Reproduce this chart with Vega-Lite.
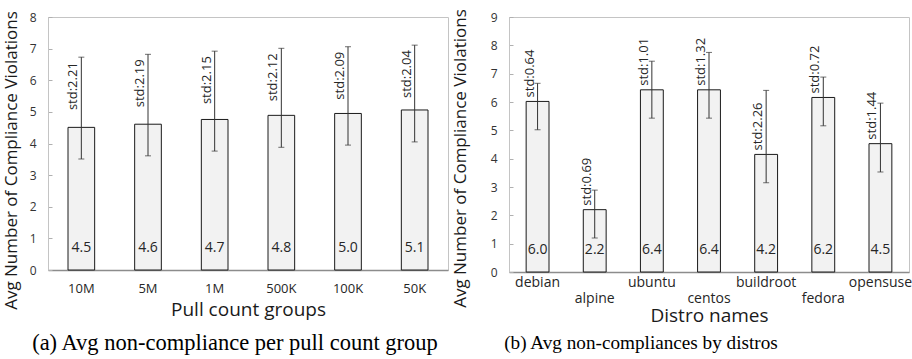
{
  "$schema": "https://vega.github.io/schema/vega-lite/v6.json",
  "padding": {"left": 1, "top": 8, "right": 2, "bottom": 0},
  "background": "white",
  "config": {
    "view": {"stroke": "#c4c4c4", "strokeWidth": 1},
    "font": "Open Sans",
    "axis": {"grid": false, "labelFont": "Open Sans", "titleFont": "Open Sans", "titleFontWeight": "normal", "labelColor": "#333333", "titleColor": "#1a1a1a"},
    "title": {"font": "Liberation Serif", "fontWeight": "normal", "fontSize": 21, "color": "#000000"}
  },
  "datasets": {
    "pull": [
      {"group": "10M", "mean": 4.51, "low": 3.51, "high": 6.73, "label": "4.5", "std": "std:2.21"},
      {"group": "5M", "mean": 4.61, "low": 3.61, "high": 6.82, "label": "4.6", "std": "std:2.19"},
      {"group": "1M", "mean": 4.76, "low": 3.76, "high": 6.92, "label": "4.7", "std": "std:2.15"},
      {"group": "500K", "mean": 4.89, "low": 3.88, "high": 7.01, "label": "4.8", "std": "std:2.12"},
      {"group": "100K", "mean": 4.95, "low": 3.95, "high": 7.06, "label": "5.0", "std": "std:2.09"},
      {"group": "50K", "mean": 5.06, "low": 4.05, "high": 7.11, "label": "5.1", "std": "std:2.04"}
    ],
    "distro": [
      {"name": "debian", "mean": 6.02, "low": 5.02, "high": 6.66, "label": "6.0", "std": "std:0.64"},
      {"name": "alpine", "mean": 2.2, "low": 1.2, "high": 2.89, "label": "2.2", "std": "std:0.69"},
      {"name": "ubuntu", "mean": 6.43, "low": 5.43, "high": 7.44, "label": "6.4", "std": "std:1.01"},
      {"name": "centos", "mean": 6.43, "low": 5.43, "high": 7.75, "label": "6.4", "std": "std:1.32"},
      {"name": "buildroot", "mean": 4.15, "low": 3.15, "high": 6.41, "label": "4.2", "std": "std:2.26"},
      {"name": "fedora", "mean": 6.16, "low": 5.16, "high": 6.88, "label": "6.2", "std": "std:0.72"},
      {"name": "opensuse", "mean": 4.53, "low": 3.53, "high": 5.96, "label": "4.5", "std": "std:1.44"}
    ]
  },
  "spacing": 1,
  "hconcat": [
    {
      "width": 400,
      "height": 253,
      "data": {"name": "pull"},
      "title": {"text": "(a) Avg non-compliance per pull count group", "orient": "bottom", "anchor": "middle", "offset": 13, "dx": -13, "fontSize": 22.5},
      "encoding": {
        "x": {"field": "group", "type": "nominal", "sort": null,
          "scale": {"paddingInner": 0.6, "paddingOuter": 0.3},
          "axis": {"title": "Pull count groups", "titleFontSize": 19, "titlePadding": 5, "labelFontSize": 13, "labelAngle": 0, "labelPadding": 12, "ticks": false, "domainColor": "#8c8c8c", "domainWidth": 1.5, "labelColor": "#262626"}}
      },
      "layer": [
        {
          "mark": {"type": "bar", "fill": "#f2f2f2", "stroke": "#1a1a1a", "strokeWidth": 1},
          "encoding": {
            "y": {"field": "mean", "type": "quantitative",
              "scale": {"domain": [0, 8]},
              "axis": {"title": "Avg Number of Compliance Violations", "titleY": 143, "values": [0,1,2,3,4,5,6,7,8], "titleFontSize": 17, "titlePadding": 9, "labelFontSize": 12, "labelPadding": 16, "tickSize": -4, "tickColor": "#b0b0b0", "domainColor": "#c4c4c4", "labelOverlap": false}}
          }
        },
        {
          "mark": {"type": "errorbar", "ticks": {"size": 6, "color": "#333333"}, "rule": {"color": "#333333", "strokeWidth": 1}},
          "encoding": {
            "y": {"field": "low", "type": "quantitative",
              "axis": {"title": "Avg Number of Compliance Violations", "titleY": 143, "values": [0,1,2,3,4,5,6,7,8], "titleFontSize": 17, "titlePadding": 9, "labelFontSize": 12, "labelPadding": 16, "tickSize": -4, "tickColor": "#b0b0b0", "domainColor": "#c4c4c4", "labelOverlap": false}},
            "y2": {"field": "high"}
          }
        },
        {
          "mark": {"type": "text", "angle": 270, "align": "right", "baseline": "bottom", "dx": -5, "dy": -1, "fontSize": 13, "color": "#262626"},
          "encoding": {
            "y": {"field": "high", "type": "quantitative",
              "axis": {"title": "Avg Number of Compliance Violations", "titleY": 143, "values": [0,1,2,3,4,5,6,7,8], "titleFontSize": 17, "titlePadding": 9, "labelFontSize": 12, "labelPadding": 16, "tickSize": -4, "tickColor": "#b0b0b0", "domainColor": "#c4c4c4", "labelOverlap": false}},
            "text": {"field": "std"}
          }
        },
        {
          "mark": {"type": "text", "baseline": "middle", "dy": -22, "fontSize": 14, "color": "#262626"},
          "encoding": {
            "y": {"datum": 0, "type": "quantitative",
              "axis": {"title": "Avg Number of Compliance Violations", "titleY": 143, "values": [0,1,2,3,4,5,6,7,8], "titleFontSize": 17, "titlePadding": 9, "labelFontSize": 12, "labelPadding": 16, "tickSize": -4, "tickColor": "#b0b0b0", "domainColor": "#c4c4c4", "labelOverlap": false}},
            "text": {"field": "label"}
          }
        }
      ]
    },
    {
      "width": 400,
      "height": 255,
      "data": {"name": "distro"},
      "title": {"text": "(b) Avg non-compliances by distros", "orient": "bottom", "anchor": "middle", "offset": 9, "dx": -68, "fontSize": 19.2},
      "encoding": {
        "x": {"field": "name", "type": "nominal", "sort": null,
          "scale": {"paddingInner": 0.6, "paddingOuter": 0.3},
          "axis": {"title": "Distro names", "titleFontSize": 19, "titlePadding": 1, "labelFontSize": 14, "labelAngle": 0, "ticks": false, "domainColor": "#8c8c8c", "domainWidth": 1.5, "labelColor": "#262626",
            "labelPadding": {"condition": {"test": "indexof(['alpine','centos','fedora'], datum.value) >= 0", "value": 19}, "value": 3}}}
      },
      "layer": [
        {
          "mark": {"type": "bar", "fill": "#f2f2f2", "stroke": "#1a1a1a", "strokeWidth": 1},
          "encoding": {
            "y": {"field": "mean", "type": "quantitative",
              "scale": {"domain": [0, 9]},
              "axis": {"title": "Avg Number of Compliance Violations", "titleY": 141, "values": [0,1,2,3,4,5,6,7,8,9], "titleFontSize": 17, "titlePadding": 21, "labelFontSize": 12, "labelPadding": 16, "tickSize": -4, "tickColor": "#b0b0b0", "domainColor": "#c4c4c4", "labelOverlap": false}}
          }
        },
        {
          "mark": {"type": "errorbar", "ticks": {"size": 6, "color": "#333333"}, "rule": {"color": "#333333", "strokeWidth": 1}},
          "encoding": {
            "y": {"field": "low", "type": "quantitative",
              "axis": {"title": "Avg Number of Compliance Violations", "titleY": 141, "values": [0,1,2,3,4,5,6,7,8,9], "titleFontSize": 17, "titlePadding": 21, "labelFontSize": 12, "labelPadding": 16, "tickSize": -4, "tickColor": "#b0b0b0", "domainColor": "#c4c4c4", "labelOverlap": false}},
            "y2": {"field": "high"}
          }
        },
        {
          "mark": {"type": "text", "angle": 270, "align": "left", "baseline": "bottom", "dx": 4, "dy": -1, "fontSize": 13, "color": "#262626"},
          "encoding": {
            "y": {"field": "mean", "type": "quantitative",
              "axis": {"title": "Avg Number of Compliance Violations", "titleY": 141, "values": [0,1,2,3,4,5,6,7,8,9], "titleFontSize": 17, "titlePadding": 21, "labelFontSize": 12, "labelPadding": 16, "tickSize": -4, "tickColor": "#b0b0b0", "domainColor": "#c4c4c4", "labelOverlap": false}},
            "text": {"field": "std"}
          }
        },
        {
          "mark": {"type": "text", "baseline": "middle", "dy": -22, "fontSize": 14, "color": "#262626"},
          "encoding": {
            "y": {"datum": 0, "type": "quantitative",
              "axis": {"title": "Avg Number of Compliance Violations", "titleY": 141, "values": [0,1,2,3,4,5,6,7,8,9], "titleFontSize": 17, "titlePadding": 21, "labelFontSize": 12, "labelPadding": 16, "tickSize": -4, "tickColor": "#b0b0b0", "domainColor": "#c4c4c4", "labelOverlap": false}},
            "text": {"field": "label"}
          }
        }
      ]
    }
  ]
}
